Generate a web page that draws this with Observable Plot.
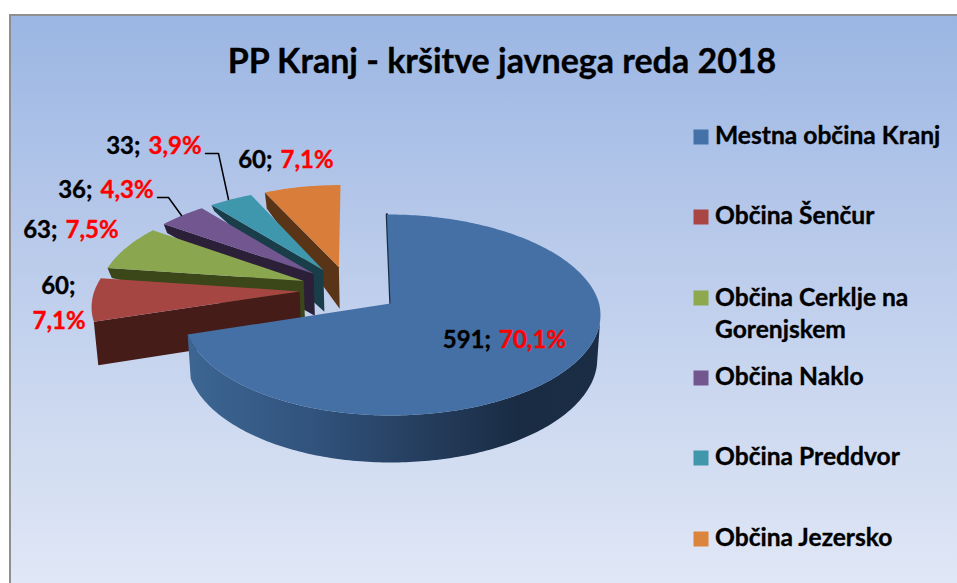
<!DOCTYPE html>
<html><head><meta charset="utf-8">
<script src="https://cdn.jsdelivr.net/npm/d3@7"></script>
<script src="https://cdn.jsdelivr.net/npm/@observablehq/plot@0.6"></script>
<style>
html,body{margin:0;padding:0;background:#fff;overflow:hidden}
#panel{position:absolute;left:9px;top:14px;width:948px;height:569px;box-sizing:border-box;border-left:2px solid #8f8f8f;border-top:2px solid #8f8f8f;background:linear-gradient(180deg,#9bb6e3 0%,#b3c6e9 32%,#cdd9f0 70%,#e0e7f6 100%)}
#chart{position:absolute;left:0;top:0}
</style></head><body>
<div id="panel"></div><div id="chart"></div>
<script>
const municipalities = ["Mestna občina Kranj","Občina Šenčur","Občina Cerklje na\nGorenjskem","Občina Naklo","Občina Preddvor","Občina Jezersko"];
const counts = [591,60,63,36,33,60];
const shares = ["70,1%","7,1%","7,5%","4,3%","3,9%","7,1%"];
const topColors = ["#4570a6","#a64643","#8aa64e","#71568f","#3f97ae","#d97e3a"];
const wallColors = ["url(#blueWall)","#451c18","#3b4619","#2c2039","#193e49","#5a3416"];
const legendColors = ["#4472a8","#a94543","#8ea84d","#72578f","#4097ac","#dc843c"];
const titleText = "PP Kranj - kršitve javnega reda 2018";

// view geometry of the tilted pie
const W = 957, H = 583, ox = 390, oy = 303, rx = 208.6, ry = 99.2, persp = 0.114, explode = 0.244;
const rimDepth = [0,0,10,9,6,16];
const xOf = p => (p - ox) / rx, yOf = p => (oy - p) / ry;

const arcs = d3.pie().sort(null).value(d => d)(counts);
const mids = arcs.map(a => (a.startAngle + a.endAngle) / 2);
const base = [explode * Math.sin(mids[0]), explode * Math.cos(mids[0])];
function project(u, v) {
  const w = 1 + persp * v;
  const pu = u / w, pv = v / w;
  const X = ox + pu * rx, Y = oy - pv * ry;
  const lean = 0.04 * Math.max(0, oy - Y) * Math.max(0, Math.min(1, (X - 240) / 90));
  return [pu - lean / rx, pv];
}
const toPx = p => [ox + p[0] * rx, oy - p[1] * ry];
const fromPx = (X, Y) => [xOf(X), yOf(Y)];
function depth(Y) { return 42.9 + 0.037 * (Y - oy); }
function lower(p, d) {
  const [X, Y] = toPx(p);
  const t = d == null ? depth(Y) : d;
  return fromPx(392 + (X - 392) * 0.985, Y + t);
}
function slicePoints(i, a0, a1) {
  const cu = explode * Math.sin(mids[i]) - base[0], cv = explode * Math.cos(mids[i]) - base[1];
  const n = Math.max(2, Math.ceil((a1 - a0) * 60));
  const rim = d3.range(n + 1).map(k => {
    const t = a0 + (a1 - a0) * k / n;
    const s = Math.sin(t);
    return project(cu + (i === 0 && s < 0 ? 0.985 * s : s), cv + Math.cos(t));
  });
  return {apex: project(cu, cv), rim};
}
const polygon = (pts, fill) => Plot.line(pts, {x: d => d[0], y: d => d[1], fill, stroke: "none", curve: "linear"});

const marks = [];
// back slices, drawn from the back forward
[5,4,3,2,1].forEach(i => {
  const a = arcs[i];
  const {apex, rim} = slicePoints(i, a.startAngle, a.endAngle);
  const corner = rim[0];
  const wall = [corner, apex, lower(apex), lower(corner, rimDepth[i] || undefined)];
  marks.push(polygon(wall, wallColors[i]));
  marks.push(polygon([apex, ...rim], topColors[i]));
});
// main slice: wall of the rim, then the top face
{
  const a = arcs[0];
  const whole = slicePoints(0, a.startAngle, a.endAngle);
  const front = slicePoints(0, 100 * Math.PI / 180, a.endAngle).rim;
  marks.push(polygon([...front, ...front.slice().reverse().map(p => lower(p))], "url(#blueWall)"));
  marks.push(Plot.line([whole.rim[0], whole.apex], {x: d => d[0], y: d => d[1], stroke: "#1b2d45", strokeWidth: 2.5}));
  marks.push(polygon([whole.apex, ...whole.rim], topColors[0]));
}
// leader lines
const leaders = [
  {id:"a", pts:[[157,197],[168,197],[181,215]]},
  {id:"b", pts:[[205,153],[218,153],[228,199]]}
];
leaders.forEach(l => marks.push(Plot.line(l.pts.map(p => fromPx(p[0], p[1])), {x: d => d[0], y: d => d[1], stroke: "#000", strokeWidth: 1.5})));

// value labels
const labelAnchors = [[490.5,340],[75,286,32,321],[57,230],[92,190],[140,145.5],[272,160]];
const text = (rows, o) => Plot.text(rows, {x: d => xOf(d.X), y: d => yOf(d.Y), text: "t", fontFamily: "Lato", fontWeight: 700, lineAnchor: "middle", strokeWidth: 0.35, stroke: o.fill, ...o});
const blackRows = [], redRows = [];
counts.forEach((c, i) => {
  const p = labelAnchors[i];
  if (p.length === 4) {
    blackRows.push({X: p[0], Y: p[1], t: c + ";"});
    redRows.push({X: p[2], Y: p[3], t: shares[i]});
  } else {
    blackRows.push({X: p[0], Y: p[1], t: c + ";"});
    redRows.push({X: p[0] + 8, Y: p[1], t: shares[i]});
  }
});
marks.push(text(blackRows, {textAnchor: "end", fill: "#000", fontSize: 24}));
marks.push(text(redRows, {textAnchor: "start", fill: "#f00", fontSize: 24}));

// title
marks.push(text([{X: 501.5, Y: 62, t: titleText}], {textAnchor: "middle", fill: "#000", fontSize: 34}));

// legend
const legendY = [136.5,216.5,297.5,377.5,457.5,538.5];
const legendRows = municipalities.map((m, i) => ({X: 714.5, Y: legendY[i] - 3 + (m.includes("\n") ? 16.5 : 0), t: m, c: legendColors[i], my: legendY[i]}));
legendRows.forEach(r => {
  marks.push(Plot.dot([r], {x: () => xOf(700.5), y: d => yOf(d.my), symbol: "square", r: 8.46, fill: r.c, stroke: "none"}));
});
marks.push(text(legendRows, {textAnchor: "start", fill: "#000", fontSize: 24.6, lineHeight: 1.33}));

const plot = Plot.plot({
  width: W, height: H, margin: 0,
  style: {background: "transparent"},
  x: {domain: [xOf(0), xOf(W)], range: [0, W], axis: null},
  y: {domain: [yOf(H), yOf(0)], range: [H, 0], axis: null},
  marks
});
const defs = d3.create("svg:defs");
const g = defs.append("linearGradient").attr("id","blueWall").attr("x1","0").attr("x2","1").attr("y1","0").attr("y2","0");
[[0,"#3d6693"],[0.3,"#31537d"],[0.55,"#263f60"],[0.8,"#1a2c44"],[1,"#1a2d45"]].forEach(s => g.append("stop").attr("offset",s[0]).attr("stop-color",s[1]));
plot.prepend(defs.node());
document.getElementById("chart").append(plot);
</script>
</body></html>
